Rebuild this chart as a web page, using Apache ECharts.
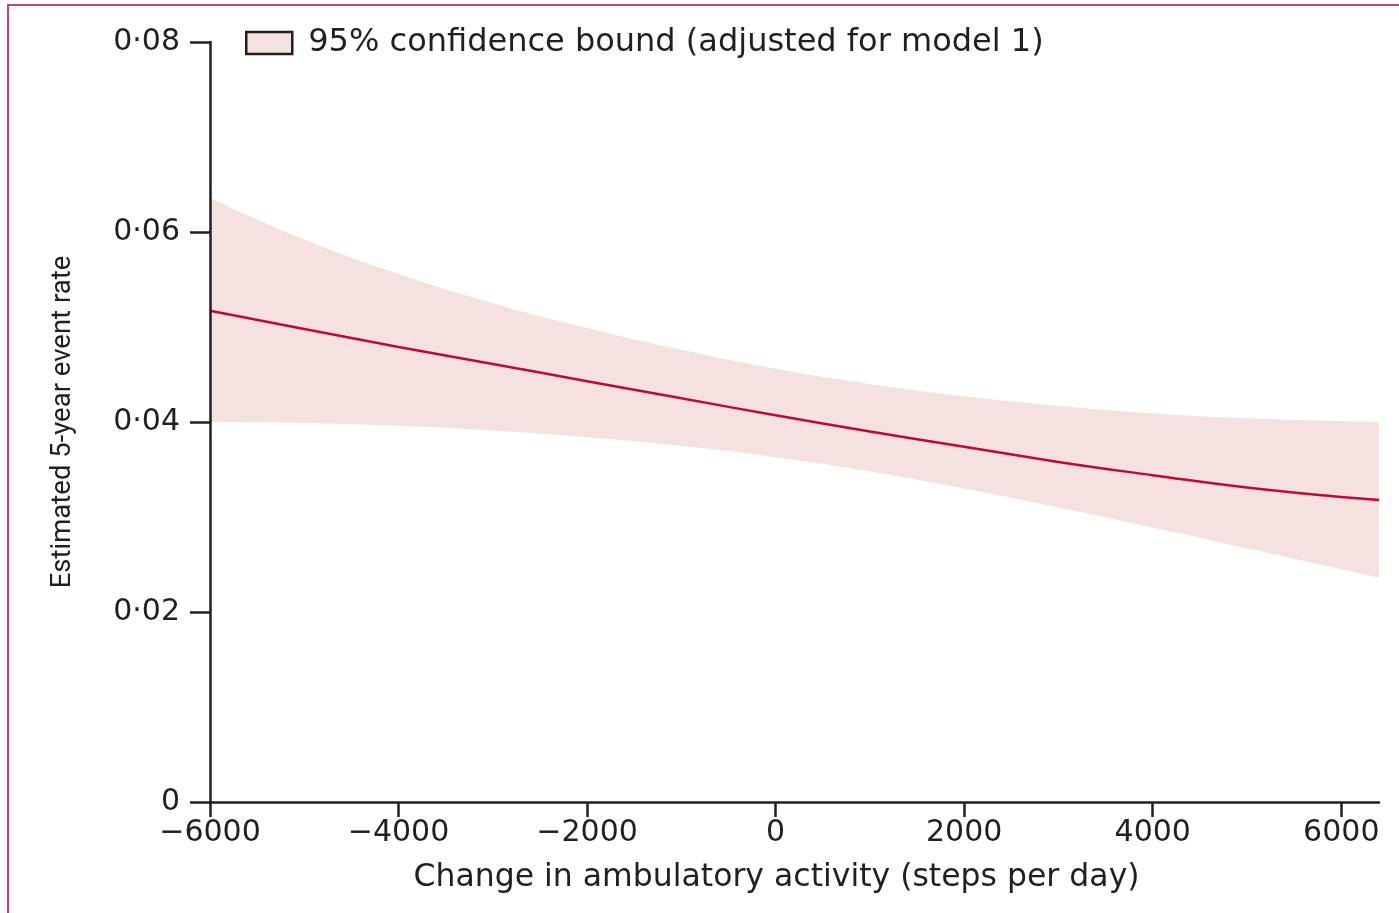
<!DOCTYPE html>
<html>
<head>
<meta charset="utf-8">
<script src="https://cdn.jsdelivr.net/npm/echarts@6/dist/echarts.min.js"></script>
<style>
  html, body { margin: 0; padding: 0; background: #fff; }
  #chart { position: absolute; left: 0; top: 0; width: 1399px; height: 913px; }
  #frame { position: absolute; left: 7px; top: 4px; width: 1392px; height: 909px;
           border-top: 2px solid #c0456c; border-left: 2px solid #c0456c; pointer-events: none; }
</style>
</head>
<body>
<div id="chart"></div>
<div id="frame"></div>
<script>
// Change in steps per day
const steps = [-6000, -5000, -4000, -3000, -2000, -1000, 0, 1000, 2000, 3000, 4000, 5000, 6000, 6400];
// Estimated 5-year event rate (central estimate)
const estimate = [0.0517, 0.0498, 0.0479, 0.0461, 0.0443, 0.0425, 0.0407, 0.0390, 0.0374, 0.0358, 0.0344, 0.0331, 0.0321, 0.0318];
// 95% confidence bounds
const upperBound = [0.0636, 0.0592, 0.0556, 0.0525, 0.0499, 0.0476, 0.0456, 0.0440, 0.0427, 0.0417, 0.0409, 0.0404, 0.0401, 0.0400];
const lowerBound = [0.0400, 0.0399, 0.0396, 0.0391, 0.0384, 0.0375, 0.0363, 0.0348, 0.0330, 0.0310, 0.0289, 0.0267, 0.0245, 0.0236];
// Tick labels
const xTicks = [-6000, -4000, -2000, 0, 2000, 4000, 6000];
const yTicks = [0, 0.02, 0.04, 0.06, 0.08];

const bandName = '95% confidence bound (adjusted for model 1)';
const ink = '#231f20';
const bandColor = '#f5e1df';
const font = '"DejaVu Sans", "Open Sans", sans-serif';

const upperData = steps.map((s, i) => [s, upperBound[i]]);
const lowerData = steps.map((s, i) => [s, lowerBound[i]]);
const lineData = steps.map((s, i) => [s, estimate[i]]);

const chart = echarts.init(document.getElementById('chart'), null, { renderer: 'canvas' });
chart.setOption({
  animation: false,
  backgroundColor: '#ffffff',
  grid: { left: 210, right: 20, top: 42, bottom: 111, containLabel: false },
  legend: {
    left: 240, top: 22,
    data: [bandName],
    icon: 'rect',
    itemWidth: 46, itemHeight: 22,
    itemStyle: { color: bandColor, borderColor: ink, borderWidth: 2.5 },
    textStyle: { fontFamily: font, fontSize: 32, color: ink, padding: [0, 0, 0, 11] }
  },
  xAxis: {
    type: 'value', min: -6000, max: 6400, z: 10,
    name: 'Change in ambulatory activity (steps per day)',
    nameLocation: 'middle', nameGap: 60,
    nameTextStyle: { fontFamily: font, fontSize: 31.5, color: ink, padding: [0, 36, 0, 0] },
    axisLine: { onZero: false, lineStyle: { color: ink, width: 2.5 } },
    axisTick: { show: true, length: 15, lineStyle: { color: ink, width: 2.5 }, customValues: xTicks },
    axisLabel: { margin: 16, fontFamily: font, fontSize: 30, color: ink, customValues: xTicks,
      formatter: v => String(v).replace('-', '\u2212') },
    splitLine: { show: false }
  },
  yAxis: {
    type: 'value', min: 0, max: 0.08, interval: 0.02, z: 10,
    name: 'Estimated 5-year event rate',
    nameLocation: 'middle', nameGap: 133, nameRotate: 90,
    nameTextStyle: { fontFamily: 'Roboto, "Open Sans", sans-serif', fontSize: 27.5, color: ink },
    axisLine: { onZero: false, lineStyle: { color: ink, width: 2.5 } },
    axisTick: { show: true, length: 20, lineStyle: { color: ink, width: 2.5 }, customValues: yTicks },
    axisLabel: { margin: 30, fontFamily: font, fontSize: 30, color: ink, customValues: yTicks,
      formatter: v => v === 0 ? '0' : v.toFixed(2).replace('.', '\u00b7') },
    splitLine: { show: false }
  },
  series: [
    {
      name: bandName, type: 'line', data: upperData, smooth: true,
      symbol: 'none', lineStyle: { opacity: 0 }, itemStyle: { color: bandColor },
      areaStyle: { color: bandColor, opacity: 1, origin: 'start' }, silent: true, z: 1
    },
    {
      name: 'lowerMask', type: 'line', data: lowerData, smooth: true,
      symbol: 'none', lineStyle: { opacity: 0 }, itemStyle: { color: '#ffffff' },
      areaStyle: { color: '#ffffff', opacity: 1, origin: 'start' }, silent: true, z: 2
    },
    {
      name: 'estimate', type: 'line', data: lineData, smooth: true,
      symbol: 'none', lineStyle: { color: '#c0093b', width: 2.5 }, z: 3
    }
  ]
});
</script>
</body>
</html>
